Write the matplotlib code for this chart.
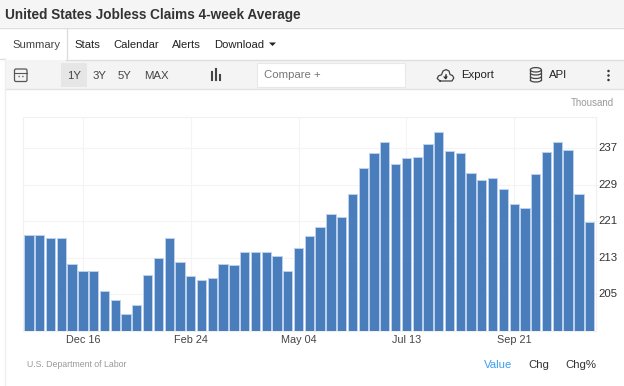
import matplotlib
matplotlib.use("Agg")
from matplotlib import pyplot as plt
from matplotlib.patches import Rectangle, Ellipse, FancyBboxPatch, Arc
from matplotlib.transforms import ScaledTranslation
import numpy as np

plt.rcParams['font.family'] = ['Liberation Sans', 'DejaVu Sans']

# jobless claims, thousands, one bar per week
values = [218.0, 218.0, 217.3, 217.3, 211.6, 210.0, 210.0, 205.6, 203.8, 200.6,
          202.5, 209.2, 213.0, 217.3, 212.1, 209.0, 208.2, 208.6, 211.6, 211.3,
          214.3, 214.3, 214.3, 213.3, 210.0, 215.1, 217.8, 219.7, 222.6, 221.9,
          227.0, 232.7, 235.9, 238.5, 233.5, 234.9, 235.2, 238.0, 240.6, 236.4,
          235.9, 231.5, 230.0, 230.6, 228.0, 224.8, 224.0, 231.3, 236.3, 238.5,
          236.7, 227.0, 220.8]
x_ticks = [5, 15, 25, 35, 45]
x_labels = ['Dec 16', 'Feb 24', 'May 04', 'Jul 13', 'Sep 21']
y_ticks = [205, 213, 221, 229, 237]

W, H = 624, 386
fig = plt.figure(figsize=(W / 100, H / 100), dpi=100, facecolor='white')

# page chrome, in pixel coordinates
ui = fig.add_axes([0, 0, 1, 1])
ui.set_xlim(0, W)
ui.set_ylim(H, 0)
ui.axis('off')

ui.add_patch(Rectangle((0, 0), W, 27, fc='#f5f5f5', ec='none'))
ui.plot([0, W], [27.5, 27.5], color='#dedede', lw=1)
ui.add_patch(Rectangle((5, 60), 619, 29, fc='#f4f4f4', ec='none'))
ui.plot([66, W], [59.5, 59.5], color='#dedede', lw=1)
ui.plot([0, 5], [58.5, 58.5], color='#dedede', lw=1)
ui.plot([5, W], [89, 89], color='#e2e2e2', lw=1)
ui.plot([5, 5], [58, H], color='#efefef', lw=1)
ui.plot([66.5, 66.5], [28, 60], color='#dedede', lw=1)
ui.add_patch(Rectangle((61, 63), 26, 24, fc='#e6e6e6', ec='none'))
ui.add_patch(Rectangle((257, 63), 148, 24, fc='white', ec='#e8e8e8', lw=0.8))

ui.text(5, 14.5, 'United States Jobless Claims 4-week Average', fontsize=9.8,
        fontweight='bold', color='#333333', va='center')
tabs = [('Summary', 12, '#444444'), ('Stats', 74, '#222222'), ('Calendar', 113.5, '#222222'),
        ('Alerts', 172, '#222222'), ('Download', 214.5, '#222222')]
for name, x, col in tabs:
    ui.text(x, 44.5, name, fontsize=8.1, color=col, va='center')
ui.fill([269, 276, 272.5], [42.5, 42.5, 46], color='#222222', lw=0)
for name, x in [('1Y', 67), ('3Y', 92.5), ('5Y', 118), ('MAX', 144)]:
    ui.text(x, 76, name, fontsize=8.2, color='#444444', va='center')
ui.text(264, 75, 'Compare +', fontsize=8.2, color='#777777', va='center')
ui.text(461, 75.5, 'Export', fontsize=8.2, color='#222222', va='center')
ui.text(549, 75.5, 'API', fontsize=8.2, color='#222222', va='center')

# calendar icon
ui.add_patch(FancyBboxPatch((14.5, 69), 12.5, 12.5, boxstyle='round,pad=0,rounding_size=1.5',
                            fc='none', ec='#555555', lw=0.9))
ui.plot([14.5, 27], [72.5, 72.5], color='#555555', lw=0.8)
ui.plot([18, 24], [75.5, 75.5], color='#666666', lw=1, ls=':')
# bars icon
for x, top in [(211.5, 72), (215.5, 69), (219.5, 75)]:
    ui.plot([x, x], [top, 80], color='#444444', lw=1.5)
# cloud icon
cloud_x = [440, 437.2, 438.5, 441.5, 443, 446, 449, 450, 452.5, 453.8, 452, 440]
cloud_y = [81, 78.5, 75.8, 74.8, 71, 69.6, 71, 74.5, 75.5, 78, 81, 81]
ui.plot(cloud_x, cloud_y, color='#444444', lw=0.9, solid_joinstyle='round')
ui.plot([445.5, 445.5], [74.5, 78], color='#333333', lw=1.1)
ui.fill([443, 448, 445.5], [76.5, 76.5, 79.5], color='#333333', lw=0)
# database icon
for y in [73, 76.5, 80]:
    ui.add_patch(Arc((535.8, y), 11, 4, theta1=0, theta2=180, ec='#444444', lw=0.9))
ui.add_patch(Ellipse((535.8, 69.8), 11, 4.4, fc='none', ec='#444444', lw=0.9))
ui.plot([530.3, 530.3], [69.8, 80], color='#444444', lw=0.9)
ui.plot([541.3, 541.3], [69.8, 80], color='#444444', lw=0.9)
# menu dots
for y in [71, 75.5, 80]:
    ui.add_patch(Ellipse((608.5, y), 2.5, 2.5, fc='#333333', ec='none'))

ui.text(614, 102.5, 'Thousand', fontsize=7, color='#999999', va='center', ha='right')
ui.text(27, 364.5, 'U.S. Department of Labor', fontsize=6.3, color='#999999', va='center')
ui.text(484, 365.5, 'Value', fontsize=8.2, color='#3d9df0', va='center')
ui.text(528.5, 365.5, 'Chg', fontsize=8.2, color='#333333', va='center')
ui.text(565.5, 365.5, 'Chg%', fontsize=8.2, color='#333333', va='center')

# the chart itself
ax = fig.add_axes([23 / W, 1 - 330.5 / H, (595.5 - 23) / W, (330.5 - 117) / H])
ax.patch.set_alpha(0)
pos = np.arange(len(values))
ax.bar(pos, values, width=0.86, bottom=0, color='#4a7dbb', edgecolor='#bcd2ec', linewidth=0.7, zorder=3)
ax.set_xlim(-0.557, 52.54)
ax.set_ylim(197, 243.9)
ax.set_xticks(x_ticks)
ax.set_xticklabels(x_labels)
ax.yaxis.tick_right()
ax.set_yticks(y_ticks)
ax.tick_params(axis='x', length=0, pad=3, labelsize=7.8, labelcolor='#444444')
ax.tick_params(axis='y', length=4.6, width=0.7, color='#f4f4f4', pad=-2.3, labelsize=8.2, labelcolor='#333333')
ax.grid(True, color='#f4f4f4', lw=0.8, zorder=0)
for name, spine in ax.spines.items():
    spine.set_color('#f0f0f0')
    spine.set_linewidth(0.8)
# value labels sit just above their gridlines
up = ScaledTranslation(0, 1 / 100, fig.dpi_scale_trans)
for lab in ax.get_yticklabels():
    lab.set_transform(lab.get_transform() + up)

fig.savefig('out.png', dpi=100)
